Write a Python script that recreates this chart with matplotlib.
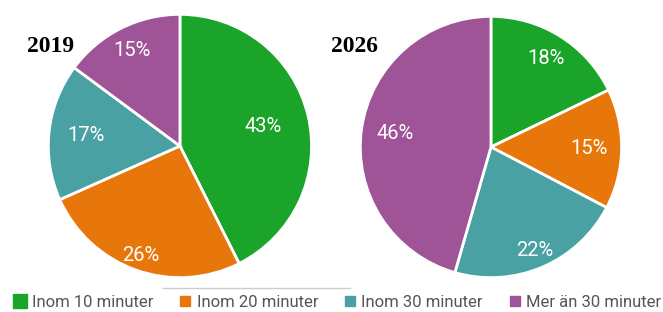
import numpy as np
import matplotlib
matplotlib.use("Agg")
import matplotlib.pyplot as plt
from matplotlib.lines import Line2D

# data
categories = ["Inom 10 minuter", "Inom 20 minuter", "Inom 30 minuter", "Mer än 30 minuter"]
years = ["2019", "2026"]
share_2019 = [43, 26, 17, 15]
share_2026 = [18, 15, 22, 46]

colors = ["#1aa52a", "#e8770b", "#4aa1a4", "#9e5497"]
# where each % label sits (fraction of radius)
label_r = [[0.65, 0.88, 0.72, 0.81], [0.80, 0.75, 0.86, 0.74]]

plt.rcParams['font.family'] = ['Roboto', 'DejaVu Sans']

def draw_pie(ax, vals, dists):
    wedges, _ = ax.pie(vals, colors=colors, startangle=90, counterclock=False,
                       wedgeprops=dict(edgecolor="white", linewidth=2))
    for w, v, d in zip(wedges, vals, dists):
        ang = np.deg2rad((w.theta1 + w.theta2) / 2)
        ax.text(d * np.cos(ang), d * np.sin(ang), f"{v}%", color="white",
                fontsize=14.5, ha="center", va="center")
    ax.set_xlim(-1.01, 1.01)
    ax.set_ylim(-1.01, 1.01)
    ax.set_aspect("equal")

def main():
    fig = plt.figure(figsize=(6.63, 3.12), dpi=100)

    ax1 = fig.add_axes([0.0709, 0.1058, 0.401, 0.8526])
    draw_pie(ax1, share_2019, label_r[0])
    ax2 = fig.add_axes([0.5415, 0.1058, 0.398, 0.846])
    draw_pie(ax2, share_2026, label_r[1])

    fig.text(0.0405, 0.852, years[0], fontsize=17, fontweight="bold",
             family="Liberation Serif", ha="left", va="center")
    fig.text(0.500, 0.852, years[1], fontsize=17, fontweight="bold",
             family="Liberation Serif", ha="left", va="center")

    # thin grey rule under the left pie
    fig.add_artist(Line2D([0.246, 0.528], [0.078, 0.078], color="#cccccc", lw=1))

    sizes = [9.5, 6.5, 6.5, 6.5]
    handles = [Line2D([], [], marker="s", linestyle="none", markersize=s,
                      markerfacecolor=c, markeredgecolor=c)
               for c, s in zip(colors, sizes)]
    fig.legend(handles, categories, ncol=4, loc="center", bbox_to_anchor=(0.509, 0.032),
               frameon=False, fontsize=12, labelcolor="#555555", handlelength=0.8,
               handletextpad=0.3, columnspacing=1.5, borderpad=0)

    fig.savefig("out.png", dpi=100)

if __name__ == '__main__':
    main()
